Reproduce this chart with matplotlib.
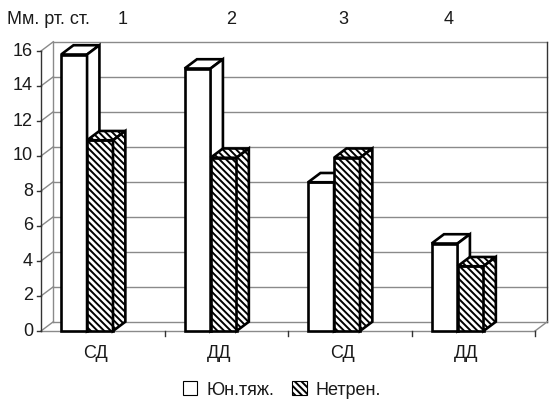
import matplotlib.pyplot as plt
from matplotlib.patches import Polygon, Patch

plt.rcParams['font.family'] = ['Liberation Sans', 'DejaVu Sans']
plt.rcParams['hatch.linewidth'] = 1.4

# data
categories = ['СД', 'ДД', 'СД', 'ДД']
group_numbers = ['1', '2', '3', '4']
young_heavy = [15.8, 15.0, 8.5, 5.0]   # Юн.тяж.
untrained = [10.9, 9.9, 9.9, 3.7]      # Нетрен.
y_ticks = [0, 2, 4, 6, 8, 10, 12, 14, 16]
series_labels = ['Юн.тяж.', 'Нетрен.']

# layout of the pseudo-3D frame
PX_X, PX_Y = 123.5, 17.5      # pixels per data unit
DX, DY = 0.1, 0.53            # depth offset
BAR_W = 0.21
BAR_X0 = 0.163
num_x = [0.66, 1.54, 2.45, 3.30]
txt = '#1a1a1a'
grid_c = '#8a8a8a'
FS = 13
HATCH = '\\' * 5

fig = plt.figure(figsize=(5.54, 4.13), dpi=100)
ax = fig.add_axes([0, 0, 1, 1])
ax.set_xlim(-41 / PX_X, (554 - 41) / PX_X)
ax.set_ylim(-82 / PX_Y, 331 / PX_Y)
ax.axis('off')

n = len(categories)
top = y_ticks[-1]

# walls and gridlines
for v in y_ticks:
    ax.plot([DX, n + DX], [v + DY, v + DY], color=grid_c, lw=1.0, zorder=1)
    ax.plot([0, DX], [v, v + DY], color=grid_c, lw=1.0, zorder=1)
    ax.plot([-0.035, 0], [v, v], color='#333333', lw=1.0, zorder=2)
    ax.text(-0.065, v, str(v), ha='right', va='center', fontsize=FS, color=txt)
ax.plot([DX, DX], [DY, top + DY], color=grid_c, lw=1.0, zorder=1)
ax.plot([n + DX, n + DX], [DY, top + DY], color='#333333', lw=1.0, zorder=1)
ax.plot([0, 0], [0, top], color='#333333', lw=1.0, zorder=2)
ax.plot([0, n], [0, 0], color=grid_c, lw=1.0, zorder=1)
ax.plot([n, n + DX], [0, DY], color=grid_c, lw=1.0, zorder=1)
for i in range(1, n + 1):
    ax.plot([i, i], [0, -0.29], color='#333333', lw=1.0, zorder=1)


def bar3d(x, h, hatch, z):
    kw = dict(facecolor='white', edgecolor='black', linewidth=1.9, joinstyle='miter', zorder=z)
    ax.bar(x, h, width=BAR_W, align='edge', hatch=hatch, **kw)
    ax.add_patch(Polygon([(x, h), (x + DX, h + DY), (x + BAR_W + DX, h + DY), (x + BAR_W, h)],
                         hatch=hatch, **kw))
    ax.add_patch(Polygon([(x + BAR_W, 0), (x + BAR_W + DX, DY), (x + BAR_W + DX, h + DY), (x + BAR_W, h)],
                         hatch=hatch, **kw))


z = 3
for i in range(n):
    bar3d(i + BAR_X0, young_heavy[i], None, z)
    bar3d(i + BAR_X0 + BAR_W, untrained[i], HATCH, z + 1)
    z += 2

# category labels and group numbers
for i, c in enumerate(categories):
    ax.text(i + 0.44, -22 / PX_Y, c, ha='center', va='center', fontsize=FS, color=txt)
for xv, s in zip(num_x, group_numbers):
    ax.text(xv, 312 / PX_Y, s, ha='center', va='center', fontsize=FS, color=txt)
ax.text(-34 / PX_X, 312 / PX_Y, 'Мм. рт. ст.', ha='left', va='center', fontsize=FS, color=txt)

# legend
handles = [Patch(facecolor='white', edgecolor='black', linewidth=0.8),
           Patch(facecolor='white', edgecolor='black', linewidth=0.8, hatch=HATCH)]
ax.legend(handles, series_labels, loc='center', ncol=2, frameon=False, fontsize=FS,
          handlelength=0.8, handleheight=0.8, handletextpad=0.5, columnspacing=1.0,
          bbox_to_anchor=(282 / 554, 1 - 390 / 413), bbox_transform=fig.transFigure,
          labelcolor=txt)

fig.savefig('out.png', dpi=100)
